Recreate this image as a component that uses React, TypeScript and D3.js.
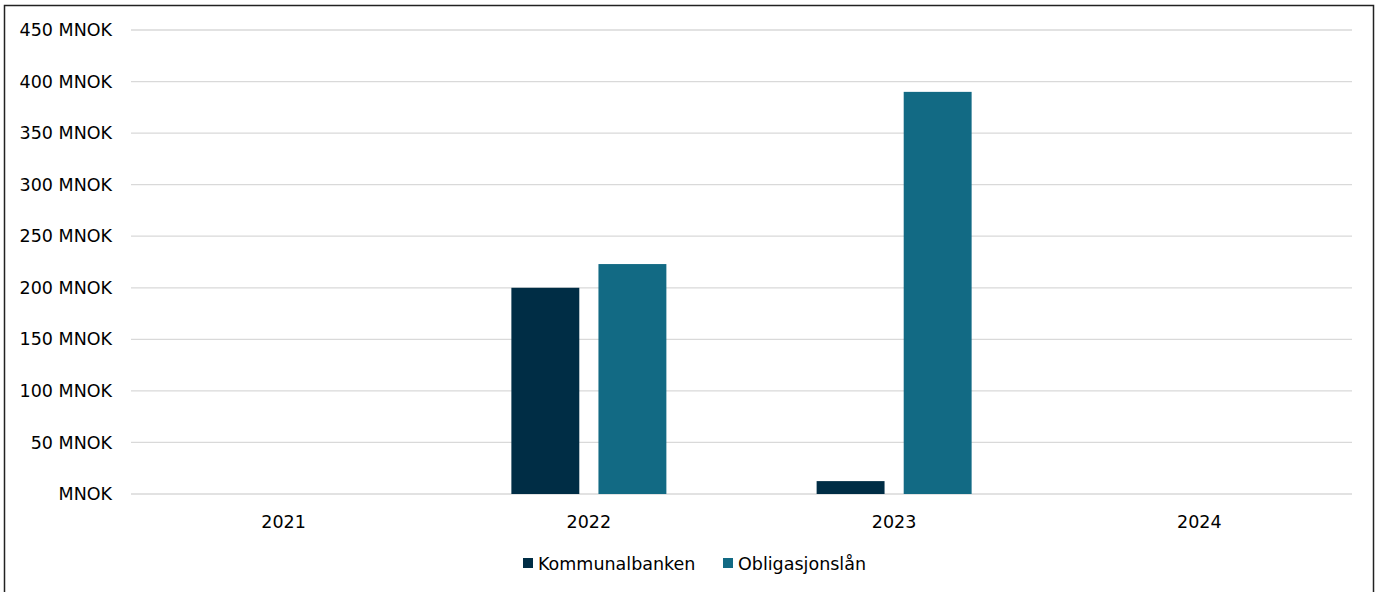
import { useEffect, useRef } from 'react';
import * as d3 from 'd3';

const years = ['2021', '2022', '2023', '2024'];
const seriesNames = ['Kommunalbanken', 'Obligasjonslån'];
const kommunalbanken = [0, 200, 12.5, 0];
const obligasjonslan = [0, 223, 390, 0];
const yTicks = [0, 50, 100, 150, 200, 250, 300, 350, 400, 450];
const colors = ['#002D45', '#126A84'];

const W = 1378;
const H = 592;
const FONT = '"DejaVu Sans", Verdana, sans-serif';
const FS = 17.5;

export default function App() {
  const ref = useRef<SVGSVGElement>(null);

  useEffect(() => {
    const el = ref.current;
    if (!el) return;
    const svg = d3.select(el);
    svg.selectAll('*').remove();

    const margin = { top: 30, right: 26, bottom: 98, left: 131 };

    svg
      .append('rect')
      .attr('x', 4.5)
      .attr('y', 5.5)
      .attr('width', W - 9)
      .attr('height', H + 20)
      .attr('fill', '#fff')
      .attr('stroke', '#222')
      .attr('stroke-width', 1.5);

    const x = d3
      .scaleBand<string>()
      .domain(years)
      .range([margin.left, W - margin.right]);

    const y = d3
      .scaleLinear()
      .domain([0, 450])
      .range([H - margin.bottom, margin.top]);

    const grid = svg.append('g');
    grid
      .selectAll('line')
      .data(yTicks)
      .join('line')
      .attr('x1', margin.left)
      .attr('x2', W - margin.right)
      .attr('y1', (d) => y(d))
      .attr('y2', (d) => y(d))
      .attr('stroke', '#d9d9d9')
      .attr('stroke-width', 1.3);

    grid
      .selectAll('text')
      .data(yTicks)
      .join('text')
      .attr('x', 112)
      .attr('y', (d) => y(d))
      .attr('dy', '0.35em')
      .attr('text-anchor', 'end')
      .attr('font-family', FONT)
      .attr('font-size', FS)
      .attr('fill', '#000')
      .text((d) => (d === 0 ? 'MNOK' : `${d} MNOK`));

    const inner = d3
      .scaleBand<string>()
      .domain(seriesNames)
      .range([0, 155])
      .paddingInner(0.22);

    const rows = years.flatMap((yr, i) => [
      { yr, s: seriesNames[0], v: kommunalbanken[i], c: colors[0] },
      { yr, s: seriesNames[1], v: obligasjonslan[i], c: colors[1] },
    ]);

    svg
      .append('g')
      .selectAll('rect')
      .data(rows.filter((r) => r.v > 0))
      .join('rect')
      .attr('x', (r) => (x(r.yr) ?? 0) + x.bandwidth() / 2 - 77.5 + (inner(r.s) ?? 0))
      .attr('y', (r) => y(r.v))
      .attr('width', inner.bandwidth())
      .attr('height', (r) => y(0) - y(r.v))
      .attr('fill', (r) => r.c);

    svg
      .append('g')
      .selectAll('text')
      .data(years)
      .join('text')
      .attr('x', (d) => (x(d) ?? 0) + x.bandwidth() / 2)
      .attr('y', 528)
      .attr('text-anchor', 'middle')
      .attr('font-family', FONT)
      .attr('font-size', FS)
      .attr('fill', '#000')
      .text((d) => d);

    const legendX = [523, 723];
    const legend = svg
      .append('g')
      .selectAll('g')
      .data(seriesNames)
      .join('g')
      .attr('transform', (_d, i) => `translate(${legendX[i]},558)`);
    legend
      .append('rect')
      .attr('width', 10)
      .attr('height', 10)
      .attr('fill', (_d, i) => colors[i]);
    legend
      .append('text')
      .attr('x', 15)
      .attr('y', 12)
      .attr('font-family', FONT)
      .attr('font-size', FS)
      .attr('fill', '#000')
      .text((d) => d);
  }, []);

  return (
    <div style={{ position: 'fixed', left: 0, top: 0, width: W, height: H, background: '#fff' }}>
      <svg ref={ref} width={W} height={H} />
    </div>
  );
}
